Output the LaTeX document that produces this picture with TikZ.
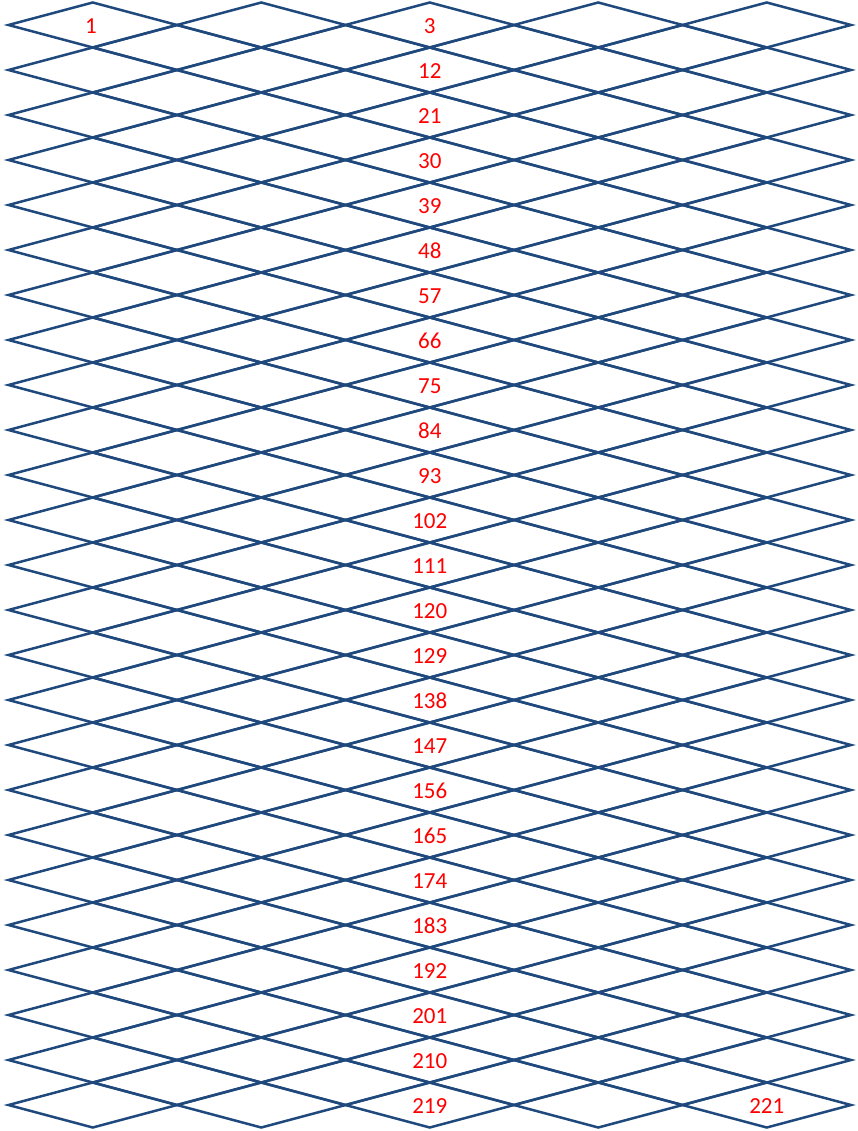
\documentclass[tikz,border=0pt]{standalone}
\usepackage{fontspec}
\setmainfont{Carlito}
\definecolor{gridblue}{RGB}{31,73,125}
\definecolor{numred}{RGB}{255,0,0}
\tikzset{
	rhomb/.style={gridblue,line width=2.5pt},
	num/.style={numred,inner sep=0pt,font=\fontsize{23}{23}\selectfont}
}
\begin{document}
\begin{tikzpicture}[x=1pt,y=-1pt]
		\useasboundingbox (0,0) rectangle (857,1131);
		%full rows
		\foreach \i in {0,...,24}
			\foreach \j in {0,...,4}
				\draw[rhomb] (8.5+168.5*\j,25+45*\i) -- (92.75+168.5*\j,2.5+45*\i) -- (177+168.5*\j,25+45*\i) -- (92.75+168.5*\j,47.5+45*\i) -- cycle;
		%offset rows
		\foreach \i in {0,...,23}
			\foreach \j in {0,...,3}
				\draw[rhomb] (92.75+168.5*\j,47.5+45*\i) -- (177+168.5*\j,25+45*\i) -- (261.25+168.5*\j,47.5+45*\i) -- (177+168.5*\j,70+45*\i) -- cycle;
		%numbers
		\node[num] (n1) at (91,26) {1};
		\foreach \i in {0,...,24}
			\pgfmathtruncatemacro{\n}{3+9*\i}
			\node[num] (n\n) at (429.75,26+45*\i) {\n};
		\node[num] (n221) at (766.75,1106) {221};
	\end{tikzpicture}
\end{document}
